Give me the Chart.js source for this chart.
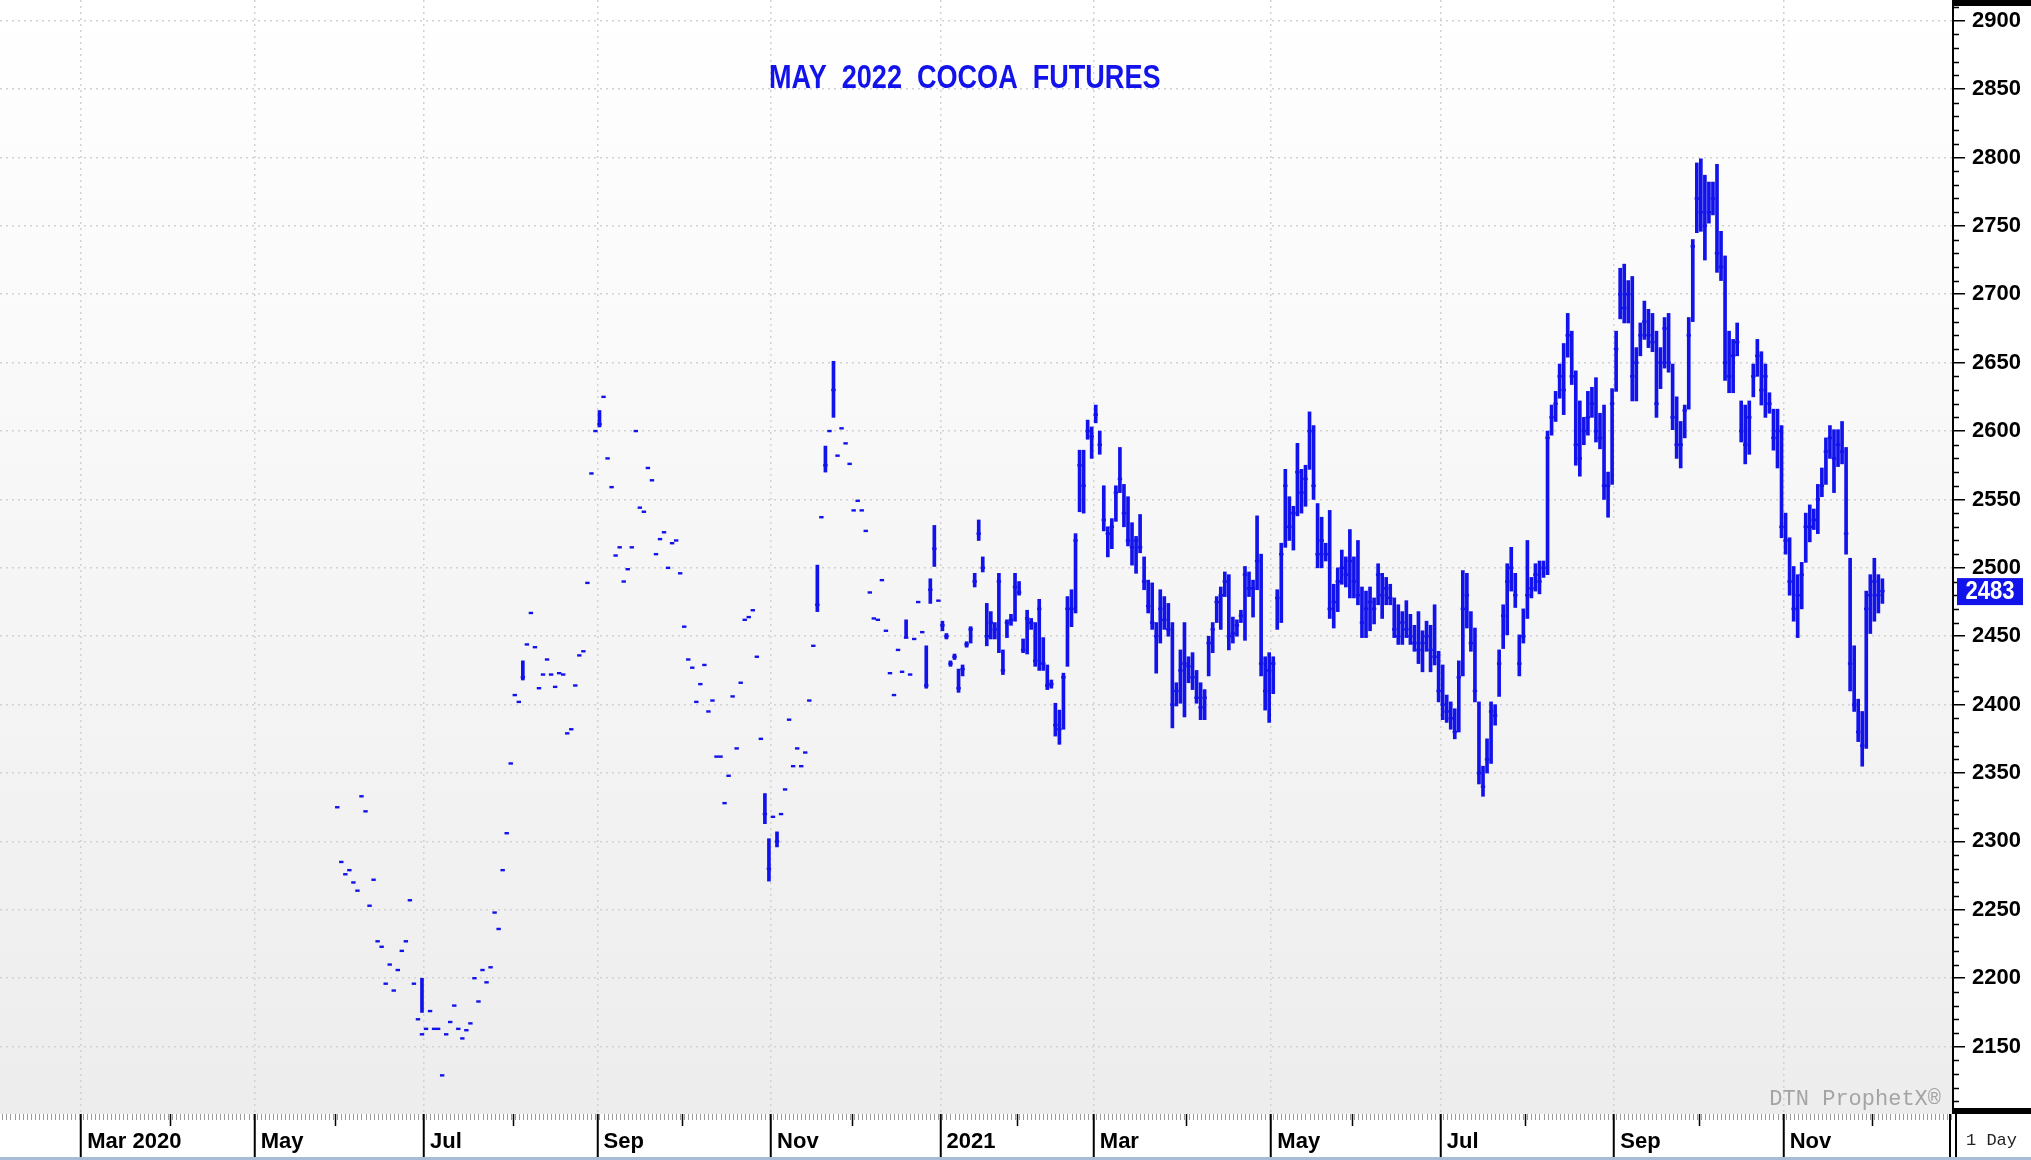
<!DOCTYPE html>
<html>
<head>
<meta charset="utf-8">
<title>May 2022 Cocoa Futures</title>
<script src="https://cdn.jsdelivr.net/npm/chart.js@4.4.1/dist/chart.umd.min.js"></script>
<style>
  html, body { margin: 0; padding: 0; background: #fff; }
  #wrap { width: 2031px; height: 1160px; }
</style>
</head>
<body>
<div id="wrap"><canvas id="cocoaChart"></canvas></div>
<script>
// Daily bars of the May 2022 cocoa contract, one entry per trading day
// (day 0 = first trading day of Feb 2020, first value is day 83)
const firstDay = 83;

const closes = [
  2325, 2285, 2276, 2279, 2270, 2264, 2333, 2322, 2253, 2272,
  2227, 2223, 2196, 2210, 2191, 2206, 2220, 2227, 2257, 2196,
  2170, 2159, 2163, 2176, 2163, 2163, 2129, 2159, 2168, 2180,
  2163, 2156, 2162, 2167, 2200, 2183, 2206, 2197, 2208, 2248,
  2236, 2279, 2306, 2357, 2407, 2402, 2420, 2444, 2467, 2442,
  2412, 2422, 2433, 2422, 2413, 2423, 2422, 2379, 2382, 2414,
  2436, 2439, 2489, 2569, 2600, 2605, 2625, 2580, 2559, 2509,
  2515, 2490, 2499, 2515, 2600, 2544, 2541, 2573, 2564, 2510,
  2521, 2526, 2500, 2518, 2520, 2496, 2457, 2433, 2427, 2402,
  2415, 2429, 2395, 2403, 2362, 2362, 2328, 2348, 2406, 2368,
  2416, 2462, 2464, 2469, 2435, 2375, 2320, 2280, 2318, 2300,
  2320, 2338, 2389, 2355, 2368, 2355, 2365, 2403, 2443, 2473,
  2537, 2575, 2600, 2630, 2582, 2602, 2591, 2576, 2542, 2549,
  2542, 2527, 2482, 2463, 2462, 2491, 2454, 2423, 2407, 2440,
  2424, 2449, 2422, 2448, 2475, 2453, 2414, 2484, 2514, 2476,
  2458, 2450, 2430, 2435, 2412, 2426, 2444, 2455, 2490, 2525,
  2500, 2450, 2460, 2455, 2490, 2425, 2460, 2462, 2486, 2482,
  2440, 2463, 2460, 2432, 2470, 2430, 2414, 2415, 2385, 2382,
  2420, 2470, 2470, 2520, 2575, 2560, 2600, 2596, 2612, 2590,
  2535, 2525, 2530, 2555, 2565, 2540, 2520, 2515, 2520, 2515,
  2490, 2472, 2460, 2450, 2470, 2462, 2455, 2400, 2410, 2425,
  2430, 2428, 2420, 2405, 2398, 2405, 2445, 2455, 2475, 2480,
  2490, 2450, 2452, 2458, 2465, 2495, 2485, 2485, 2505, 2430,
  2410, 2425, 2430, 2478, 2510, 2560, 2530, 2540, 2570, 2555,
  2565, 2600, 2560, 2510, 2520, 2510, 2470, 2475, 2490, 2500,
  2495, 2505, 2490, 2480, 2460, 2470, 2475, 2470, 2495, 2480,
  2485, 2478, 2455, 2450, 2460, 2455, 2450, 2445, 2440, 2445,
  2450, 2440, 2435, 2410, 2400, 2395, 2390, 2380, 2420, 2470,
  2480, 2445, 2410, 2350, 2340, 2360, 2395, 2392, 2430, 2465,
  2490, 2500, 2480, 2430, 2450, 2480, 2485, 2495, 2490, 2500,
  2595, 2610, 2620, 2640, 2630, 2670, 2640, 2590, 2580, 2600,
  2610, 2620, 2600, 2595, 2560, 2560, 2620, 2660, 2700, 2690,
  2700, 2640, 2650, 2670, 2680, 2670, 2665, 2620, 2650, 2675,
  2650, 2610, 2590, 2590, 2615, 2670, 2735, 2770, 2760, 2750,
  2760, 2770, 2730, 2720, 2650, 2640, 2655, 2665, 2600, 2590,
  2610, 2640, 2655, 2630, 2640, 2620, 2595, 2600, 2530, 2520,
  2490, 2470, 2480, 2495, 2530, 2530, 2535, 2550, 2560, 2585,
  2595, 2580, 2590, 2585, 2525, 2430, 2400, 2380, 2370, 2470,
  2480, 2490, 2480, 2483,
];

// null = no traded range that day (only the settlement dot is drawn)
const lows = [
  null, null, null, null, null, null, null, null, null, null,
  null, null, null, null, null, null, null, null, null, null,
  null, 2175, null, null, null, null, null, null, null, null,
  null, null, null, null, null, null, null, null, null, null,
  null, null, null, null, null, null, 2418, null, null, null,
  null, null, null, null, null, null, null, null, null, null,
  null, null, null, null, null, 2603, null, null, null, null,
  null, null, null, null, null, null, null, null, null, null,
  null, null, null, null, null, null, null, null, null, null,
  null, null, null, null, null, null, null, null, null, null,
  null, null, null, null, null, null, 2313, 2271, null, 2296,
  null, null, null, null, null, null, null, null, null, 2468,
  null, 2570, null, 2610, null, null, null, null, null, null,
  null, null, null, null, null, null, null, null, null, null,
  null, 2449, null, null, null, null, 2412, 2474, 2501, null,
  2454, 2448, 2428, 2433, 2409, 2421, 2442, 2445, 2486, 2520,
  2497, 2443, 2448, 2448, 2438, 2422, 2449, 2458, 2461, 2480,
  2438, 2437, 2455, 2428, 2425, 2425, 2411, 2412, 2377, 2371,
  2382, 2428, 2457, 2467, 2541, 2540, 2594, 2580, 2606, 2583,
  2527, 2508, 2514, 2534, 2555, 2530, 2516, 2502, 2496, 2511,
  2484, 2467, 2455, 2423, 2445, 2455, 2450, 2383, 2399, 2401,
  2391, 2416, 2411, 2401, 2389, 2389, 2421, 2438, 2460, 2455,
  2479, 2440, 2445, 2450, 2460, 2447, 2479, 2464, 2484, 2421,
  2396, 2387, 2408, 2455, 2460, 2515, 2520, 2513, 2538, 2540,
  2545, 2572, 2550, 2500, 2500, 2505, 2463, 2456, 2468, 2488,
  2486, 2478, 2478, 2473, 2449, 2449, 2454, 2459, 2473, 2463,
  2473, 2473, 2449, 2444, 2444, 2449, 2444, 2439, 2430, 2424,
  2439, 2424, 2429, 2402, 2389, 2387, 2382, 2375, 2380, 2421,
  2456, 2439, 2402, 2342, 2333, 2350, 2357, 2385, 2406, 2441,
  2451, 2483, 2471, 2421, 2445, 2463, 2478, 2483, 2481, 2493,
  2495, 2597, 2607, 2624, 2612, 2654, 2634, 2575, 2567, 2590,
  2597, 2610, 2592, 2587, 2550, 2537, 2561, 2629, 2682, 2679,
  2679, 2622, 2622, 2655, 2667, 2661, 2658, 2610, 2631, 2646,
  2643, 2601, 2580, 2573, 2595, 2616, 2680, 2745, 2746, 2725,
  2752, 2758, 2716, 2710, 2637, 2628, 2628, 2655, 2592, 2576,
  2583, 2625, 2640, 2619, 2610, 2613, 2586, 2573, 2522, 2510,
  2480, 2461, 2449, 2470, 2504, 2519, 2528, 2525, 2552, 2561,
  2580, 2555, 2574, 2576, 2510, 2410, 2395, 2373, 2355, 2368,
  2452, 2461, 2467, 2474,
];

const highs = [
  null, null, null, null, null, null, null, null, null, null,
  null, null, null, null, null, null, null, null, null, null,
  null, 2200, null, null, null, null, null, null, null, null,
  null, null, null, null, null, null, null, null, null, null,
  null, null, null, null, null, null, 2432, null, null, null,
  null, null, null, null, null, null, null, null, null, null,
  null, null, null, null, null, 2615, null, null, null, null,
  null, null, null, null, null, null, null, null, null, null,
  null, null, null, null, null, null, null, null, null, null,
  null, null, null, null, null, null, null, null, null, null,
  null, null, null, null, null, null, 2335, 2302, null, 2307,
  null, null, null, null, null, null, null, null, null, 2502,
  null, 2589, null, 2651, null, null, null, null, null, null,
  null, null, null, null, null, null, null, null, null, null,
  null, 2462, null, null, null, null, 2443, 2492, 2531, null,
  2461, 2452, 2432, 2437, 2426, 2429, 2446, 2457, 2496, 2535,
  2508, 2474, 2468, 2460, 2496, 2440, 2462, 2466, 2496, 2490,
  2448, 2469, 2463, 2460, 2477, 2449, 2429, 2418, 2401, 2396,
  2423, 2479, 2484, 2525, 2586, 2586, 2608, 2603, 2619, 2600,
  2560, 2530, 2536, 2560, 2588, 2561, 2552, 2533, 2523, 2539,
  2508, 2491, 2489, 2460, 2484, 2479, 2474, 2460, 2416, 2440,
  2460, 2435, 2438, 2425, 2416, 2411, 2450, 2460, 2479, 2486,
  2497, 2495, 2464, 2462, 2469, 2501, 2497, 2491, 2538, 2510,
  2435, 2438, 2435, 2484, 2518, 2572, 2552, 2545, 2591, 2572,
  2575, 2614, 2604, 2547, 2537, 2518, 2542, 2488, 2500, 2513,
  2508, 2528, 2508, 2520, 2486, 2483, 2486, 2478, 2503, 2496,
  2493, 2488, 2478, 2473, 2468, 2476, 2466, 2458, 2468, 2454,
  2461, 2458, 2473, 2439, 2429, 2407, 2402, 2397, 2432, 2498,
  2496, 2468, 2456, 2402, 2355, 2375, 2402, 2400, 2440, 2473,
  2503, 2515, 2496, 2451, 2470, 2520, 2493, 2503, 2505, 2505,
  2600, 2619, 2629, 2649, 2664, 2686, 2673, 2644, 2622, 2610,
  2629, 2632, 2639, 2613, 2619, 2570, 2631, 2673, 2719, 2722,
  2710, 2713, 2661, 2679, 2695, 2689, 2686, 2673, 2661, 2683,
  2686, 2649, 2625, 2607, 2619, 2683, 2740, 2796, 2799, 2787,
  2782, 2782, 2795, 2746, 2728, 2673, 2667, 2679, 2622, 2619,
  2622, 2649, 2667, 2658, 2649, 2628, 2616, 2616, 2604, 2540,
  2522, 2501, 2495, 2504, 2540, 2546, 2543, 2561, 2573, 2595,
  2604, 2601, 2601, 2607, 2588, 2507, 2443, 2404, 2395, 2483,
  2495, 2507, 2495, 2492,
];

// trading-day index where each month starts
const monthStarts = [20, 63, 105, 148, 191, 233, 271, 315, 357, 400, 442];
const monthLabels = ["Mar 2020", "May", "Jul", "Sep", "Nov", "2021", "Mar", "May", "Jul", "Sep", "Nov"];
const minorMonthStarts = [42, 83, 127, 169, 211, 252, 294, 335, 378, 421, 464];

const priceTicks = [2150, 2200, 2250, 2300, 2350, 2400, 2450, 2500, 2550, 2600, 2650, 2700, 2750, 2800, 2850, 2900];

const chartTitle = "MAY  2022  COCOA  FUTURES";
const lastPrice = closes[closes.length - 1];

//--------------------------look----------
const blue = "rgb(18, 18, 235)";
const sansFont = '"Liberation Sans", Arial, sans-serif';
const monoFont = '"Liberation Mono", "DejaVu Sans Mono", monospace';
const yMin = 2100.75;
const yMax = 2915.1;
const dayMin = -0.6;
const dayMax = 483.5;

Chart.defaults.font.family = sansFont;

//--------------------------datasets----------
const rangeData = [];
const closeData = [];
for (let i = 0; i < closes.length; i++) {
  const day = firstDay + i;
  if (lows[i] !== null) rangeData.push({ x: day, y: [lows[i], highs[i]] });
  closeData.push({ x: day, y: closes[i] });
}

// narrow bold text, squeezed horizontally
function narrowText(ctx, text, x, y, size, squeeze) {
  ctx.save();
  ctx.translate(x, y);
  ctx.scale(squeeze, 1);
  ctx.font = "bold " + size + "px " + sansFont;
  ctx.fillText(text, 0, 0);
  ctx.restore();
}

//--------------------------plugins----------
const backgroundPlugin = {
  id: "backgroundPlugin",
  beforeDraw(chart) {
    const { ctx, chartArea: a, width, height } = chart;
    ctx.save();
    ctx.fillStyle = "#ffffff";
    ctx.fillRect(0, 0, width, height);
    const g = ctx.createLinearGradient(0, a.top, 0, a.bottom);
    g.addColorStop(0, "#ffffff");
    g.addColorStop(1, "#ededed");
    ctx.fillStyle = g;
    ctx.fillRect(a.left, a.top, a.right - a.left, a.bottom - a.top);
    ctx.restore();
  },
};

const decorPlugin = {
  id: "decorPlugin",
  afterDraw(chart) {
    const { ctx, chartArea: a, width, height } = chart;
    const x = chart.scales.x;
    const y = chart.scales.y;
    ctx.save();

    // title
    ctx.fillStyle = blue;
    ctx.textAlign = "center";
    ctx.textBaseline = "middle";
    narrowText(ctx, chartTitle, a.left + (a.right - a.left) * 0.494, 79, 33, 0.82);

    // watermark
    ctx.fillStyle = "#a4a4a4";
    ctx.font = "22px " + monoFont;
    ctx.textAlign = "right";
    ctx.fillText("DTN ProphetX\u00AE", a.right - 12, a.bottom - 15);

    // right axis line, minor ticks, black end bars
    ctx.fillStyle = "#000";
    ctx.fillRect(a.right - 1, 0, 2, a.bottom);
    ctx.fillRect(a.right, 0, width - a.right, 6);
    ctx.fillRect(a.right, a.bottom - 6, width - a.right, 6);
    ctx.strokeStyle = "#000";
    ctx.lineWidth = 1.5;
    ctx.beginPath();
    for (let v = 2110; v < yMax; v += 10) {
      if (v % 50 === 0) continue;
      const py = Math.round(y.getPixelForValue(v)) + 0.5;
      ctx.moveTo(a.right, py);
      ctx.lineTo(a.right + 6, py);
    }
    ctx.stroke();

    // daily hatch along the date strip
    ctx.strokeStyle = "#9a9a9a";
    ctx.lineWidth = 1;
    ctx.beginPath();
    for (let d = 0; d <= dayMax; d++) {
      const px = Math.round(x.getPixelForValue(d)) + 0.5;
      ctx.moveTo(px, a.bottom);
      ctx.lineTo(px, a.bottom + 6);
    }
    ctx.stroke();
    ctx.strokeStyle = "#000";
    ctx.lineWidth = 1.5;
    ctx.beginPath();
    minorMonthStarts.forEach((d) => {
      const px = Math.round(x.getPixelForValue(d - 0.5)) + 0.5;
      ctx.moveTo(px, a.bottom);
      ctx.lineTo(px, a.bottom + 12);
    });
    ctx.stroke();

    // end of date strip, "1 Day" box, bottom rule
    ctx.fillStyle = "#000";
    ctx.fillRect(a.right - 4, a.bottom, 2, height - a.bottom);
    ctx.fillRect(a.right + 2, a.bottom, 2, height - a.bottom);
    ctx.fillStyle = "#222";
    ctx.font = "17px " + monoFont;
    ctx.textAlign = "left";
    ctx.fillText("1 Day", a.right + 13, 1140);
    ctx.fillStyle = "#a9bcd6";
    ctx.fillRect(0, height - 3, width, 3);

    // last price box
    const yc = y.getPixelForValue(lastPrice);
    ctx.fillStyle = blue;
    ctx.fillRect(a.right + 4, yc - 13, 66, 27);
    ctx.fillStyle = "#fff";
    ctx.textAlign = "center";
    narrowText(ctx, String(lastPrice), a.right + 37, yc + 1, 26, 0.85);

    ctx.restore();
  },
};

//--------------------------chart----------
const cocoaChart = new Chart(document.getElementById("cocoaChart"), {
  type: "bar",
  data: {
    datasets: [
      {
        type: "bar",
        data: rangeData,
        backgroundColor: blue,
        borderWidth: 0,
        barThickness: 3,
        order: 2,
      },
      {
        type: "scatter",
        data: closeData,
        pointStyle: "line",
        pointRadius: 2.2,
        pointBorderWidth: 2.4,
        borderColor: blue,
        backgroundColor: blue,
        order: 1,
      },
    ],
  },
  options: {
    responsive: true,
    maintainAspectRatio: false,
    animation: false,
    devicePixelRatio: 1,
    events: [],
    layout: { padding: 0, autoPadding: false },
    plugins: {
      legend: { display: false },
      tooltip: { enabled: false },
    },
    scales: {
      x: {
        type: "linear",
        position: "bottom",
        offset: false,
        min: dayMin,
        max: dayMax,
        afterBuildTicks: (scale) => {
          scale.ticks = monthStarts.map((d) => ({ value: d - 0.5 }));
        },
        afterFit: (scale) => {
          scale.height = 46;
          scale.paddingLeft = 0;
          scale.paddingRight = 0;
        },
        ticks: {
          autoSkip: false,
          maxRotation: 0,
          align: "start",
          padding: -31,
          color: "#000",
          font: { size: 22, weight: "bold" },
          callback: (v, i) => " " + monthLabels[i],
        },
        grid: {
          offset: false,
          color: "#d2d2d2",
          lineWidth: 1.5,
          tickLength: 46,
          tickColor: "#000",
          tickWidth: 2,
        },
        border: { display: false, dash: [2, 4] },
      },
      y: {
        type: "linear",
        position: "right",
        min: yMin,
        max: yMax,
        afterBuildTicks: (scale) => {
          scale.ticks = priceTicks.map((v) => ({ value: v }));
        },
        afterFit: (scale) => {
          scale.width = 78;
          scale.paddingTop = 0;
          scale.paddingBottom = 0;
        },
        ticks: {
          padding: 7,
          color: "#000",
          font: { size: 22, weight: "bold" },
          callback: (v) => String(v),
        },
        grid: {
          color: "#d2d2d2",
          lineWidth: 1.5,
          tickLength: 12,
          tickColor: "#000",
          tickWidth: 1.5,
        },
        border: { display: false, dash: [2, 4] },
      },
    },
  },
  plugins: [backgroundPlugin, decorPlugin],
});
</script>
</body>
</html>
